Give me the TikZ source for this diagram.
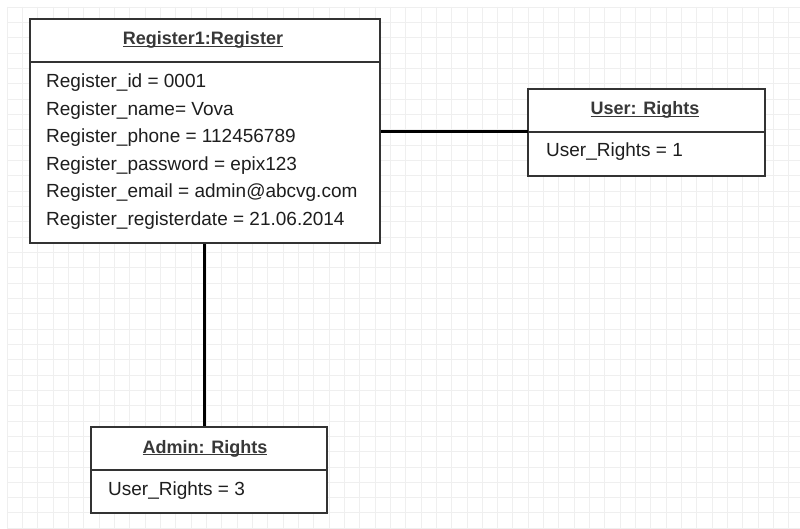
\documentclass[tikz,border=0pt]{standalone}
\usepackage{fontspec}
\setmainfont{Liberation Sans}
\definecolor{gridc}{HTML}{EFEFEF}
\definecolor{boxc}{HTML}{333333}
\definecolor{headc}{HTML}{383838}
\definecolor{txtc}{HTML}{1E1E1E}
\newcommand\hdul[1]{\underline{\smash{#1}}}
\tikzset{
  x=1pt, y=-1pt,
  gridline/.style={draw=gridc, line width=0.8pt},
  objbox/.style={draw=boxc, line width=2pt, fill=white, inner sep=0pt},
  sepline/.style={draw=boxc, line width=2pt},
  headtxt/.style={font=\fontsize{18}{22}\selectfont\bfseries, text=headc, inner sep=0pt, anchor=base},
  bodytxt/.style={font=\fontsize{19}{22}\selectfont, text=txtc, anchor=base west, inner sep=0pt},
  conn/.style={draw=black, line width=3pt},
}
\begin{document}
\begin{tikzpicture}
\useasboundingbox (0,0) rectangle (800,529);
\fill[white] (0,0) rectangle (800,529);
% background grid
\foreach \i in {0,...,51} \draw[gridline] (7+\i*15.33,7) -- (7+\i*15.33,529);
\foreach \j in {0,...,34} \draw[gridline] (7,7+\j*15.33) -- (800,7+\j*15.33);

% Register object
\node[objbox, minimum width=350pt, minimum height=224pt] (reg) at (205,131) {};
\coordinate (regsep) at (30,62);
\draw[sepline] (regsep) -- (regsep -| reg.east);
\node[headtxt] (regh) at (203,45) {\hdul{Register1:Register}};
\node[bodytxt] (r1) at (46,88) {Register\_id = 0001};
\node[bodytxt] (r2) at (46,115.5) {Register\_name= Vova};
\node[bodytxt] (r3) at (46,143) {Register\_phone = 112456789};
\node[bodytxt] (r4) at (46,170.5) {Register\_password = epix123};
\node[bodytxt] (r5) at (46,198) {Register\_email = admin@abcvg.com};
\node[bodytxt] (r6) at (46,225.5) {Register\_registerdate = 21.06.2014};

% User: Rights object
\node[objbox, minimum width=237pt, minimum height=87pt] (user) at (646.5,132.5) {};
\coordinate (usersep) at (528,132);
\draw[sepline] (usersep) -- (usersep -| user.east);
\node[headtxt] (userh) at (645,115) {\hdul{User: Rights}};
\node[bodytxt] (u1) at (546,157) {User\_Rights = 1};

% Admin: Rights object
\node[objbox, minimum width=236pt, minimum height=86pt] (admin) at (209,470) {};
\coordinate (adminsep) at (91,470);
\draw[sepline] (adminsep) -- (adminsep -| admin.east);
\node[headtxt] (adminh) at (205,453) {\hdul{Admin: Rights}};
\node[bodytxt] (a1) at (108,495) {User\_Rights = 3};

% connectors
\draw[conn] (reg.east |- usersep) -- (usersep);
\draw[conn] (204,0 |- reg.south) -- (204,0 |- admin.north);
\end{tikzpicture}
\end{document}
